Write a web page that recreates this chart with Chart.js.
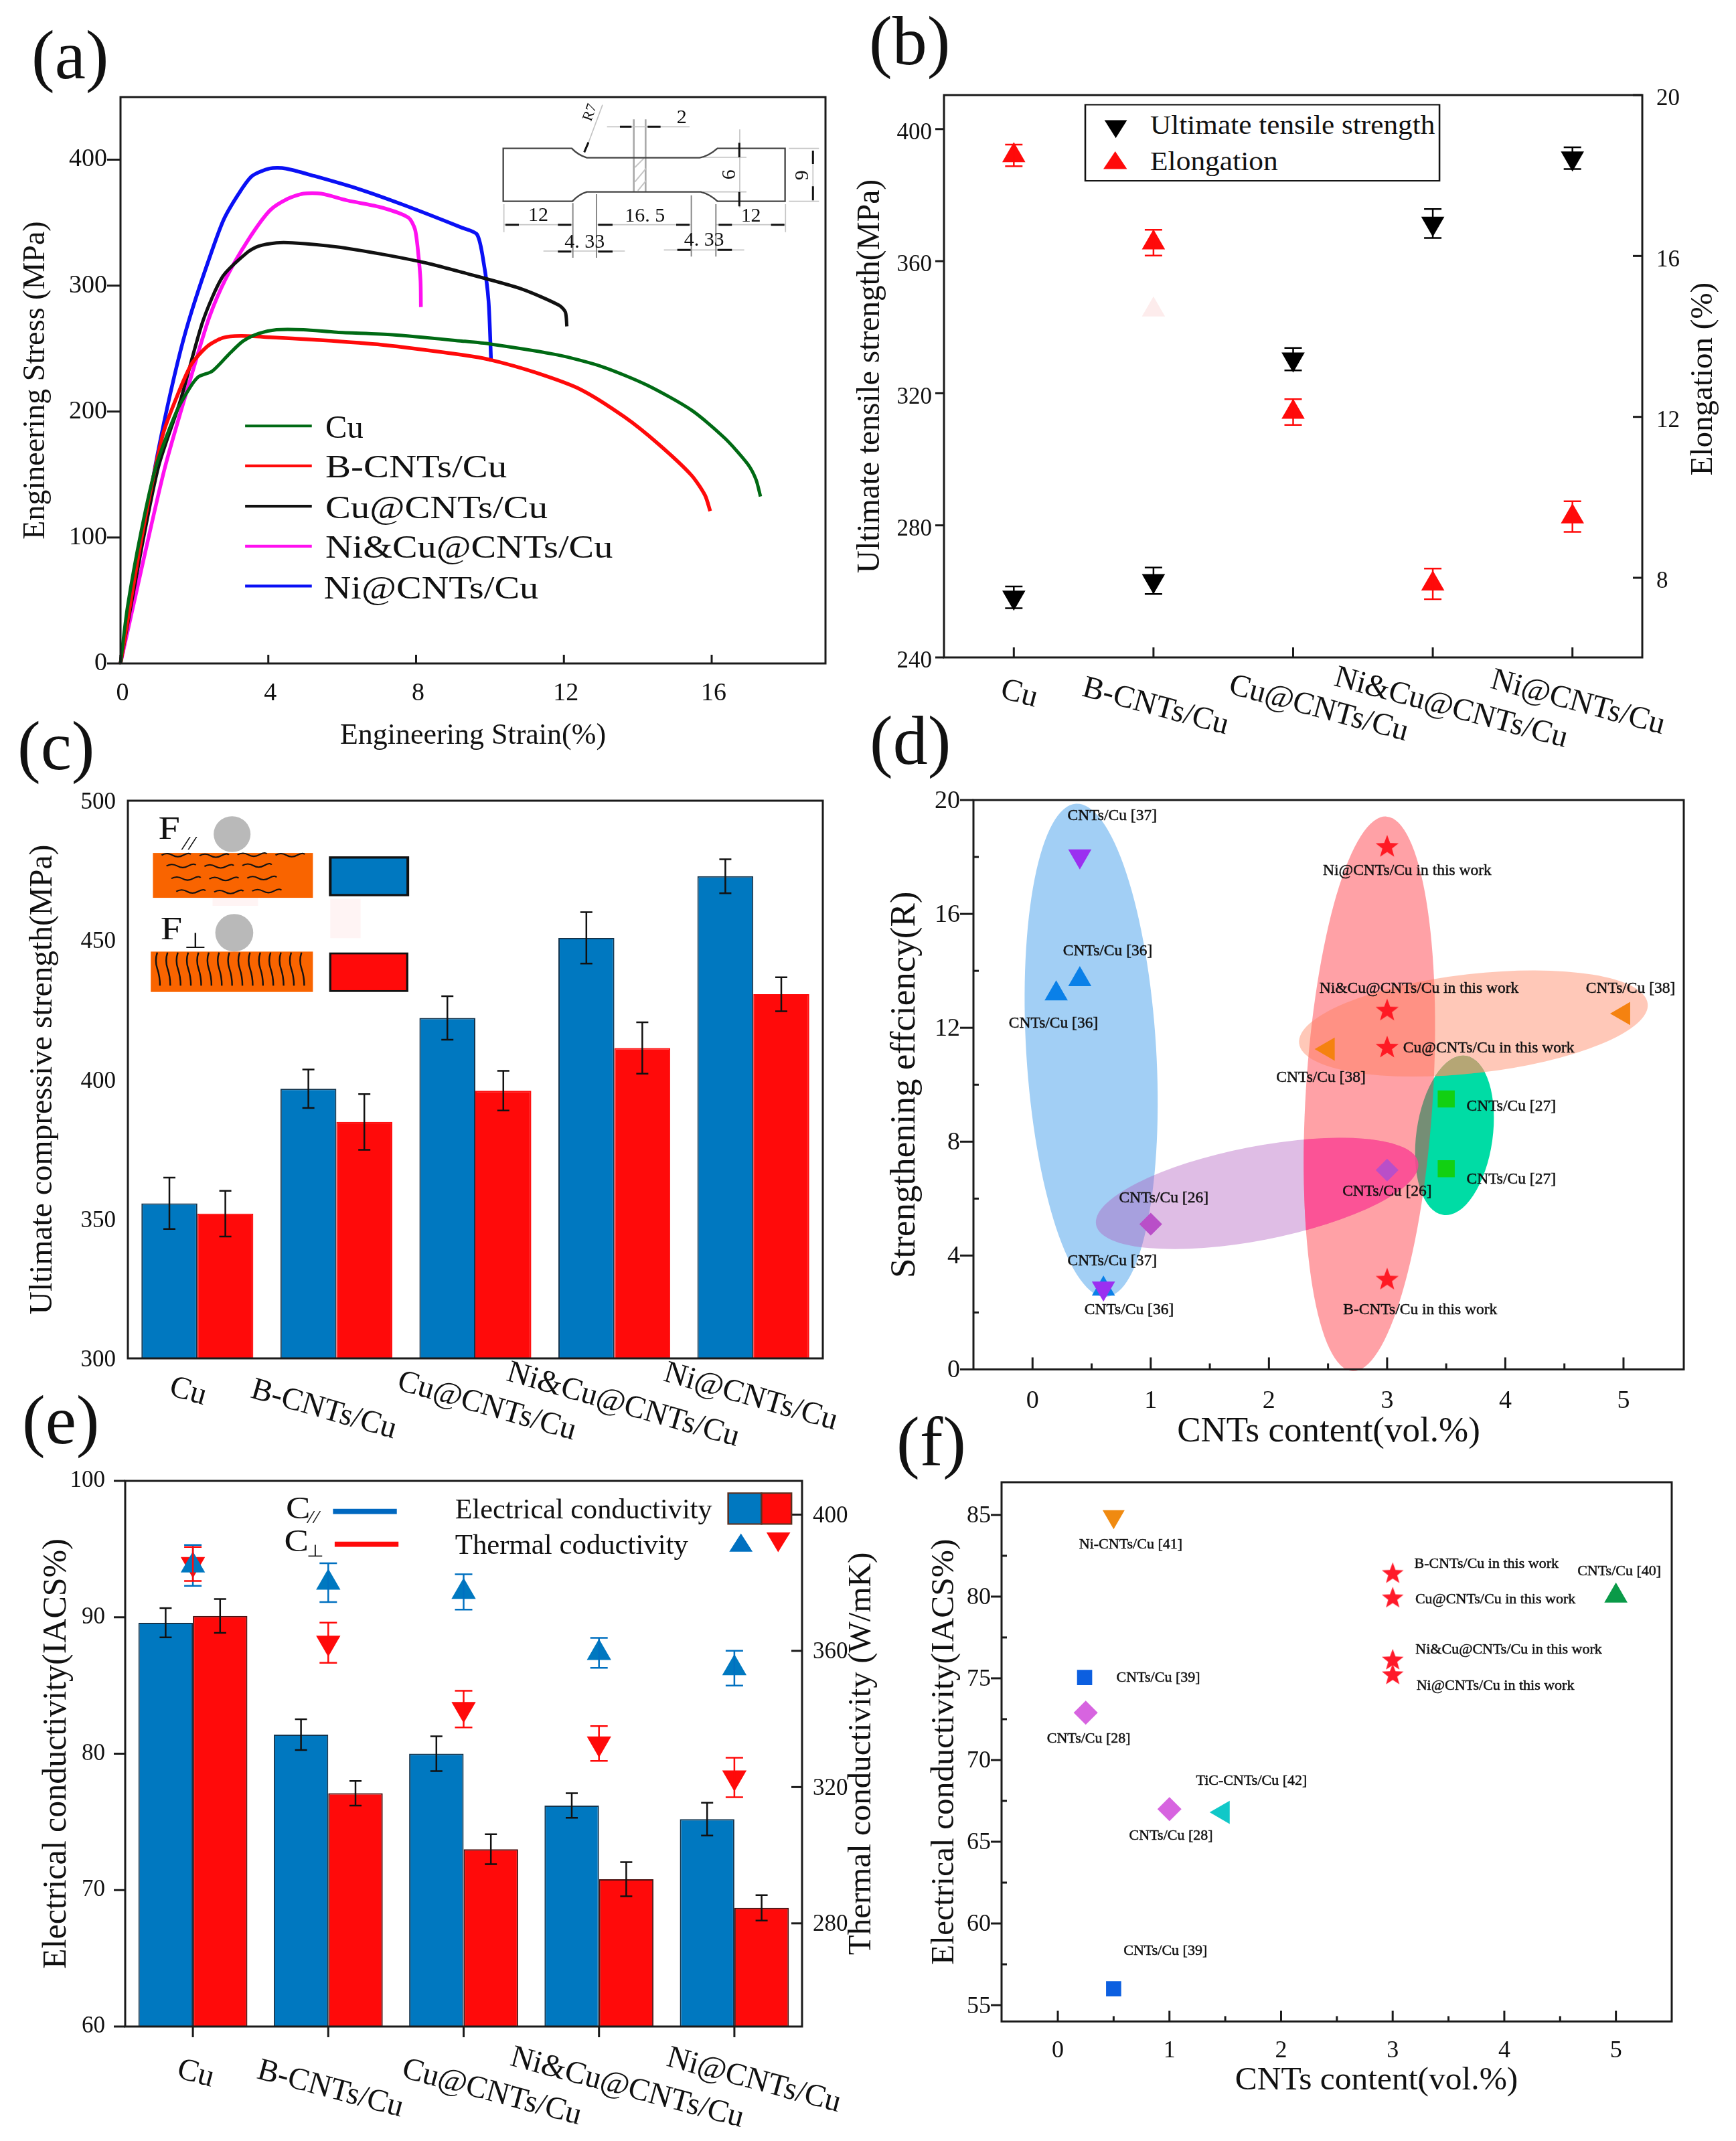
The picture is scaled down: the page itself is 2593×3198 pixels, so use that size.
<!DOCTYPE html>
<html>
<head>
<meta charset="utf-8">
<title>CNTs/Cu composite properties</title>
<script src="https://cdn.jsdelivr.net/npm/chart.js@4/dist/chart.umd.min.js"></script>
<style>
html,body{margin:0;padding:0;background:#fff}
#page{position:relative;width:2593px;height:3198px;overflow:hidden;background:#fff;font-family:"Liberation Serif",serif;color:#111}
canvas{position:absolute}
.tag{position:absolute;font-size:104px;line-height:1;white-space:nowrap}
svg{position:absolute;left:0;top:0;pointer-events:none}
svg text{font-family:"Liberation Serif",serif;fill:#111}
</style>
</head>
<body>
<div id="page">
<canvas id="a" style="left:0;top:100px" width="1260" height="1040"></canvas>
<canvas id="b" style="left:1270px;top:100px" width="1323" height="1020"></canvas>
<canvas id="c" style="left:0;top:1120px" width="1260" height="1060"></canvas>
<canvas id="d" style="left:1270px;top:1120px" width="1323" height="1080"></canvas>
<canvas id="e" style="left:0;top:2140px" width="1340" height="1058"></canvas>
<canvas id="f" style="left:1340px;top:2150px" width="1253" height="1048"></canvas>

<div class="tag" style="left:47px;top:30px">(a)</div>
<div class="tag" style="left:1298px;top:9px">(b)</div>
<div class="tag" style="left:26px;top:1062px">(c)</div>
<div class="tag" style="left:1299px;top:1054px">(d)</div>
<div class="tag" style="left:33px;top:2069px">(e)</div>
<div class="tag" style="left:1339px;top:2101px">(f)</div>

<svg width="2593" height="3198" viewBox="0 0 2593 3198">
  <!-- (a) legend -->
  <g transform="scale(.81 .7015)" fill="none" stroke-width="6">
    <path d="M452 907H575" stroke="#006a14"/>
    <path d="M452 992H575" stroke="#ff0a0a"/>
    <path d="M452 1078H575" stroke="#111"/>
    <path d="M452 1163H575" stroke="#ff10f0"/>
    <path d="M452 1248H575" stroke="#0a10f5"/>
    <text x="600" y="932" font-size="70" textLength="70" lengthAdjust="spacingAndGlyphs">Cu</text>
    <text x="600" y="1017" font-size="70" textLength="335" lengthAdjust="spacingAndGlyphs">B-CNTs/Cu</text>
    <text x="600" y="1103" font-size="70" textLength="410" lengthAdjust="spacingAndGlyphs">Cu@CNTs/Cu</text>
    <text x="600" y="1188" font-size="70" textLength="530" lengthAdjust="spacingAndGlyphs">Ni&amp;Cu@CNTs/Cu</text>
    <text x="597" y="1275" font-size="70" textLength="396" lengthAdjust="spacingAndGlyphs">Ni@CNTs/Cu</text>
  </g>

  <!-- (a) specimen drawing -->
  <g transform="translate(730 140) scale(.3333)" fill="none">
    <g stroke="#c4c4c4" stroke-width="5">
      <path d="M650 115V440M703 115V440" stroke="#aaa" stroke-width="8"/>
      <path d="M655 330L695 290M655 395L705 335M668 435L705 390" stroke-width="6"/>
      <path d="M530 148H900M510 50L430 265"/>
      <path d="M1125 160V510M960 285H1155M960 440H1155"/>
      <path d="M1345 245H1480M1345 482H1480M1453 255V478"/>
      <path d="M68 495V620M1330 495V620"/>
      <path d="M68 587H375M487 587H905M1020 587H1330M245 705H610M785 700H1145"/>
    </g>
    <path d="M377 490V735M483 450V735M908 455V730M1018 495V730" stroke="#8a8a8a" stroke-width="6"/>
    <path d="M65 245H372Q400 275 440 287H945Q985 280 1025 245H1328V482H1025Q990 450 950 440H440Q405 450 375 482H65Z" stroke="#444" stroke-width="7"/>
    <g stroke="#111" stroke-width="9">
      <path d="M588 148H640M712 148H770M428 262L447 218"/>
      <path d="M1123 220V285M1123 440V505M1453 255V315M1453 415V478"/>
      <path d="M75 587H135M310 587H370M490 587H555M840 587H900M1030 587H1090M1265 587H1325"/>
      <path d="M310 707H370M490 707H555M845 700H905M1025 700H1090"/>
    </g>
    <g font-size="90" style="fill:#333">
      <text x="447" y="108" font-size="66" text-anchor="middle" transform="rotate(-70 447 82)">R7</text>
      <text x="865" y="132" text-anchor="middle">2</text>
      <text x="1075" y="362" text-anchor="middle" dy="30" transform="rotate(-90 1075 362)">6</text>
      <text x="1400" y="365" text-anchor="middle" dy="30" transform="rotate(-90 1400 365)">9</text>
      <text x="222" y="570" text-anchor="middle">12</text>
      <text x="700" y="572" text-anchor="middle">16. 5</text>
      <text x="1175" y="572" text-anchor="middle">12</text>
      <text x="430" y="690" text-anchor="middle">4. 33</text>
      <text x="965" y="682" text-anchor="middle">4. 33</text>
    </g>
  </g>

  <!-- (b) legend -->
  <g transform="translate(1270 0) scale(.8438 .7015)">
    <rect x="416" y="223" width="627" height="162" fill="#fff" stroke="#111" stroke-width="3"/>
    <path d="M450 256H490L470 294Z" fill="#000"/>
    <path d="M448 360H490L469 322Z" fill="#ff0a0a"/>
    <text x="531" y="285" font-size="58" textLength="504" lengthAdjust="spacingAndGlyphs">Ultimate tensile strength</text>
    <text x="531" y="362" font-size="58" textLength="226" lengthAdjust="spacingAndGlyphs">Elongation</text>
  </g>

  <!-- (c) inset -->
  <g transform="translate(0 1100) scale(.81 .6696)">
    <rect x="392" y="360" width="84" height="18" fill="#fff4f4"/>
    <rect x="609" y="362" width="56" height="88" fill="#fff4f4"/>
    <ellipse cx="428" cy="218" rx="34" ry="40" fill="#b9b9b9"/>
    <ellipse cx="432" cy="438" rx="35" ry="42" fill="#b9b9b9"/>
    <rect x="282" y="260" width="295" height="100" fill="#f96400"/>
    <rect x="278" y="480" width="299" height="90" fill="#f96400"/>
    <g id="cracks" fill="none" stroke="#111" stroke-width="3"></g>
    <rect x="609" y="270" width="143" height="84" fill="#0078c0" stroke="#111" stroke-width="5"/>
    <rect x="609" y="484" width="142" height="84" fill="#ff0a0a" stroke="#111" stroke-width="4"/>
    <text x="292" y="228" font-size="72">F</text>
    <text x="336" y="252" font-size="44" font-style="italic">//</text>
    <text x="296" y="452" font-size="72">F</text>
    <text x="340" y="472" font-size="48">⊥</text>
  </g>

  <!-- (e) legend -->
  <g transform="translate(0 2100) scale(.829 .7003)">
    <text x="515" y="240" font-size="66">C</text>
    <text x="554" y="250" font-size="38" font-style="italic">//</text>
    <path d="M600 225H715" stroke="#0068c0" stroke-width="11"/>
    <text x="512" y="310" font-size="66">C</text>
    <text x="552" y="322" font-size="36">⊥</text>
    <path d="M603 295H718" stroke="#ff0a0a" stroke-width="11"/>
    <text x="820" y="240" font-size="60" textLength="463" lengthAdjust="spacingAndGlyphs">Electrical conductivity</text>
    <text x="820" y="315" font-size="60" textLength="420" lengthAdjust="spacingAndGlyphs">Thermal coductivity</text>
    <rect x="1312" y="186" width="60" height="66" fill="#0078c0" stroke="#5a3020" stroke-width="3"/>
    <rect x="1372" y="186" width="54" height="66" fill="#ff0a0a" stroke="#5a3020" stroke-width="3"/>
    <path d="M1314 311H1356L1335 272Z" fill="#0070c0"/>
    <path d="M1381 270H1424L1402 312Z" fill="#ff0a0a"/>
  </g>
</svg>
</div>

<script>
// ---- data ----
const materials = ['Cu','B-CNTs/Cu','Cu@CNTs/Cu','Ni&Cu@CNTs/Cu','Ni@CNTs/Cu'];

// (a) stress-strain curves
const cuStrain  = [0,0.19,0.56,0.96,1.5,1.87,2.11,2.48,2.95,3.32,3.74,4.22,4.95,5.85,7.36,9.24,10.02,11.83,13.04,14.25,15.46,16.36,16.97,17.2,17.32];
const cuStress  = [0,45,105,156.5,199,218.6,227.6,232,246,256,262,265,265,263,261,256,253.6,245,235.6,221,201,178.7,158.5,146,132.6];
const bStrain   = [0,0.56,1.14,1.57,1.93,2.36,2.77,3.26,4.04,5.25,7.07,9.24,10.02,11.23,12.44,13.64,14.55,15.45,15.82,15.96];
const bStress   = [0,98,181,215,238,252,258.5,260,259,257,253,245,241,231,217.7,195.7,174.4,149.5,133.5,121];
const cuAtStrain = [0,0.56,1.03,1.63,2.23,2.77,3.44,3.74,4.22,4.65,5.85,7.07,8.27,9.24,10.84,11.87,12.04,12.08];
const cuAtStress = [0,90,156.5,209.6,271.8,307.4,326.6,331.4,334,334,330.8,325,318,310.6,297.5,284.4,279,267.7];
const niCuStrain = [0,0.56,1.21,2.05,2.41,2.84,3.44,4.04,4.53,4.95,5.43,6.16,7.07,7.79,7.97,8.06,8.12,8.13];
const niCuStress = [0,74,156.5,241.5,275.5,305,335.6,359.6,369,373,373,367.5,362,354,344.7,325,303.7,283];
const niStrain  = [0,0.5,0.94,1.27,1.63,1.93,2.36,2.78,3.2,3.56,4.04,4.47,5.25,6.46,7.67,9.24,9.65,9.83,9.96,10.03];
const niStress  = [0,83,156.5,204,249,280,318,351.6,373,387,393,393,387,376.6,364,346,340.6,318,288,239.7];

// (b) tensile strength and elongation
const utsValues = [258.2,263.2,330.3,371.4,391.2];
const utsErrors = [3.3,4,3.4,4.4,3.3];
const elongValues = [18.5,16.33,12.12,7.85,9.52];
const elongErrors = [0.27,0.32,0.32,0.38,0.38];
const elongFaint = [null,14.66,null,null,null];

// (c) compressive strength
const compParallel = [355.6,396.7,422.1,450.8,472.9];
const compParallelErr = [9.2,6.9,7.8,9.2,6.1];
const compPerp = [351.9,384.8,396,411.3,430.6];
const compPerpErr = [8.2,10,7.1,9.2,6.1];

// (d) strengthening efficiency, [vol.%, R]
const dTriDown = [[0.4,18.03],[0.6,2.85]];
const dTriUp   = [[0.4,13.7],[0.2,13.2],[0.6,2.83]];
const dStars   = [[3,18.35],[3,12.6],[3,11.3],[3,3.15]];
const dDiamonds = [[1,5.1],[3,7]];
const dTriLeft = [[2.5,11.25],[5,12.5]];
const dSquares = [[3.5,9.5],[3.5,7.05]];
const dLabels  = ['CNTs/Cu [37]','CNTs/Cu [36]','CNTs/Cu [36]','CNTs/Cu [37]','CNTs/Cu [36]','Ni@CNTs/Cu in this work','Ni&Cu@CNTs/Cu in this work','Cu@CNTs/Cu in this work','B-CNTs/Cu in this work','CNTs/Cu [38]','CNTs/Cu [38]','CNTs/Cu [27]','CNTs/Cu [27]','CNTs/Cu [26]','CNTs/Cu [26]'];
const dLabelX  = [0.674,0.636,0.177,0.674,0.817,3.17,3.27,3.86,3.28,5.06,2.44,4.05,4.05,1.11,3.0];
const dLabelY  = [19.43,14.68,12.16,3.81,2.08,17.51,13.37,11.29,2.08,13.37,10.24,9.23,6.68,6.02,6.25];

// (e) electrical and thermal conductivity
const elecParallel = [89.6,81.4,80,76.2,75.2];
const elecParallelErr = [1.07,1.13,1.27,0.9,1.2];
const elecPerp = [90.1,77.1,73,70.8,68.7];
const elecPerpErr = [1.24,0.9,1.1,1.25,0.93];
const thermParallel = [385.1,380,377.3,359.4,354.9];
const thermParallelErr = [6,5.7,5.2,4.4,5.1];
const thermPerp = [385.5,362.4,342.9,332.8,322.8];
const thermPerpErr = [5,5.9,5.4,5.1,5.8];
const thermTicks = [280,320,360,400];

// (f) electrical conductivity against content
const fTriDown = [[0.5,84.9]];
const fSquares = [[0.24,75.05],[0.5,56]];
const fDiamonds = [[0.25,72.9],[1,67]];
const fTriLeft = [[1.48,66.8]];
const fTriUp   = [[5,80.05]];
const fStars   = [[3,81.4],[3,79.9],[3,76.1],[3,75.2]];
const fLabels  = ['Ni-CNTs/Cu [41]','B-CNTs/Cu in this work','Cu@CNTs/Cu in this work','CNTs/Cu [40]','Ni&Cu@CNTs/Cu in this work','Ni@CNTs/Cu in this work','CNTs/Cu [39]','CNTs/Cu [28]','TiC-CNTs/Cu [42]','CNTs/Cu [28]','CNTs/Cu [39]'];
const fLabelX  = [0.653,3.84,3.92,5.03,4.04,3.92,0.9,0.277,1.736,1.014,0.964];
const fLabelY  = [83.2,82.0,79.84,81.53,76.74,74.54,75.02,71.29,68.71,65.36,58.33];

// ---- helpers ----
const FONT = '"Liberation Serif", serif';
const BLUE = '#0078c0', RED = '#ff0a0a';
Chart.defaults.font.family = FONT;
Chart.defaults.color = '#111';
Chart.defaults.animation = false;
Chart.defaults.responsive = false;
Chart.defaults.devicePixelRatio = 1;
Chart.defaults.plugins.legend.display = false;
Chart.defaults.plugins.tooltip.enabled = false;

const pairs = (xs,ys) => xs.map((x,i)=>({x,y:ys[i]}));
const pts = (list) => list.map(([x,y])=>({x,y}));

function starMarker(r,color){
  const c=document.createElement('canvas'); c.width=c.height=r*2+2;
  const g=c.getContext('2d'); g.fillStyle=color; g.beginPath();
  for(let i=0;i<10;i++){
    const a=-Math.PI/2+i*Math.PI/5, q=i%2?r*0.42:r;
    g.lineTo(r+1+Math.cos(a)*q,r+1+Math.sin(a)*q);
  }
  g.closePath(); g.fill();
  return c;
}

// box and tick marks, spec per scale id: {dir:'in'|'out',len,minor:[],minorLen}
function frameMarks(spec){
  return {id:'frameMarks',afterDatasetsDraw(chart){
    const {ctx,chartArea:A,scales}=chart;
    ctx.save();
    ctx.strokeStyle='#1a1a1a'; ctx.lineWidth=3;
    ctx.strokeRect(A.left,A.top,A.right-A.left,A.bottom-A.top);
    const mark=(scale,v,dir,len)=>{
      const p=scale.getPixelForValue(v);
      ctx.beginPath();
      if(scale.isHorizontal()){
        const s=dir==='in'?-1:1;
        ctx.moveTo(p,A.bottom); ctx.lineTo(p,A.bottom+s*len);
      }else if(scale.position==='left'){
        const s=dir==='in'?1:-1;
        ctx.moveTo(A.left,p); ctx.lineTo(A.left+s*len,p);
      }else{
        const s=dir==='in'?-1:1;
        ctx.moveTo(A.right,p); ctx.lineTo(A.right+s*len,p);
      }
      ctx.stroke();
    };
    for(const id of Object.keys(spec)){
      const sp=spec[id], scale=scales[id];
      const vals=scale.type==='category'?scale.ticks.map((t,i)=>i):scale.ticks.map(t=>t.value);
      vals.forEach(v=>mark(scale,v,sp.dir,sp.len));
      (sp.minor||[]).forEach(v=>mark(scale,v,'in',sp.minorLen||8));
    }
    ctx.restore();
  }};
}

// error bars from each dataset's err array
const errorBars = {id:'errorBars',afterDatasetsDraw(chart){
  const {ctx}=chart;
  chart.data.datasets.forEach((ds,i)=>{
    if(!ds.err) return;
    const meta=chart.getDatasetMeta(i), yS=chart.scales[meta.yAxisID];
    ctx.save();
    ctx.strokeStyle=ds.errColor||'#111'; ctx.lineWidth=ds.errWidth||2.5;
    meta.data.forEach((el,j)=>{
      const v=ds.data[j]; if(v==null) return;
      const hi=yS.getPixelForValue(v+ds.err[j]), lo=yS.getPixelForValue(v-ds.err[j]), cap=ds.errCap||9;
      ctx.beginPath();
      ctx.moveTo(el.x,hi); ctx.lineTo(el.x,lo);
      ctx.moveTo(el.x-cap,hi); ctx.lineTo(el.x+cap,hi);
      ctx.moveTo(el.x-cap,lo); ctx.lineTo(el.x+cap,lo);
      ctx.stroke();
    });
    ctx.restore();
  });
}};

// slanted category names, offsets are from the tick and the axis line
function slantedLabels(dx,dy,angle,size){
  return {id:'slantedLabels',afterDraw(chart){
    const {ctx,chartArea:A,scales:{x}}=chart;
    x.getLabels().forEach((t,i)=>{
      ctx.save();
      ctx.translate(x.getPixelForTick(i)+dx[i],A.bottom+dy[i]);
      ctx.rotate(angle*Math.PI/180);
      ctx.font=size+'px '+FONT; ctx.fillStyle='#111'; ctx.textAlign='center'; ctx.textBaseline='middle';
      ctx.fillText(t,0,0);
      ctx.restore();
    });
  }};
}

function pointNotes(texts,xs,ys,size){
  return {id:'pointNotes',afterDatasetsDraw(chart){
    const {ctx,scales:{x,y}}=chart;
    ctx.save();
    ctx.font=size+'px '+FONT; ctx.fillStyle='#111'; ctx.strokeStyle='#111'; ctx.lineWidth=0.5;
    ctx.textAlign='center'; ctx.textBaseline='middle';
    texts.forEach((t,i)=>{
      const px=x.getPixelForValue(xs[i]), py=y.getPixelForValue(ys[i]);
      ctx.fillText(t,px,py); ctx.strokeText(t,px,py);
    });
    ctx.restore();
  }};
}

// titles the library cannot place: right axes reading upward, off-centre x title
function freeTitle(text,size,getX,getY,rot){
  return {id:'freeTitle',afterDraw(chart){
    const {ctx,chartArea:A}=chart;
    ctx.save();
    ctx.translate(getX(A),getY(A));
    ctx.rotate(rot*Math.PI/180);
    ctx.font=size+'px '+FONT; ctx.fillStyle='#111'; ctx.textAlign='center'; ctx.textBaseline='middle';
    ctx.fillText(text,0,0);
    ctx.restore();
  }};
}

function linAxis(o){
  const {pos,min,max,step,size,pad,fitW,fitH,title,titleSize,titlePad,off,fixed}=o;
  const horizontal=pos==='bottom';
  const axis={
    type:'linear',position:pos,min,max,
    grid:{display:false,drawTicks:false},border:{display:false},
    ticks:{stepSize:step,autoSkip:false,includeBounds:false,maxRotation:0,font:{size},padding:pad,color:'#111',labelOffset:off||0},
    title:title?{display:true,text:title,font:{size:titleSize},color:'#111',
      padding:horizontal?{bottom:titlePad,top:0}:{top:titlePad,bottom:0}}:{display:false},
    afterFit(s){ if(horizontal) s.height=fitH; else s.width=fitW; }
  };
  if(fixed) axis.afterBuildTicks=(s)=>{ s.ticks=fixed.map(value=>({value})); };
  return axis;
}
function catAxis(fitH){
  return {type:'category',offset:true,grid:{display:false,drawTicks:false},border:{display:false},
    ticks:{display:false},afterFit(s){s.height=fitH;}};
}

// ---- (a) ----
const curve=(label,color,xs,ys,w)=>({label,borderColor:color,backgroundColor:color,borderWidth:w,showLine:true,pointRadius:0,tension:0.25,data:pairs(xs,ys)});
new Chart(document.getElementById('a'),{
  type:'scatter',
  data:{datasets:[
    curve('Cu','#006a14',cuStrain,cuStress,5),
    curve('B-CNTs/Cu','#ff0a0a',bStrain,bStress,5.5),
    curve('Cu@CNTs/Cu','#111111',cuAtStrain,cuAtStress,5),
    curve('Ni&Cu@CNTs/Cu','#ff10f0',niCuStrain,niCuStress,5.5),
    curve('Ni@CNTs/Cu','#0a10f5',niStrain,niStress,5.5)
  ]},
  options:{layout:{padding:{top:45,right:27}},clip:false,scales:{
    x:linAxis({pos:'bottom',min:0,max:19.08,step:4,size:38,pad:22,off:3,fitH:149,title:'Engineering Strain(%)',titleSize:44,titlePad:14}),
    y:linAxis({pos:'left',min:0,max:449.7,step:100,size:38,pad:20,fitW:180,title:'Engineering Stress (MPa)',titleSize:46,titlePad:26})
  }},
  plugins:[frameMarks({x:{dir:'in',len:13},y:{dir:'out',len:20}})]
});

// ---- (b) ----
const marker=(label,color,rot,values,axis,r,extra)=>Object.assign({label,type:'line',showLine:false,pointStyle:'triangle',pointRotation:rot,pointRadius:r,pointBackgroundColor:color,pointBorderWidth:0,borderColor:color,backgroundColor:color,data:values,yAxisID:axis},extra||{});
new Chart(document.getElementById('b'),{
  type:'line',
  data:{labels:materials,datasets:[
    marker('Ultimate tensile strength','#000',180,utsValues,'y',20,{err:utsErrors,errColor:'#000',errCap:13}),
    marker('Elongation',RED,0,elongValues,'y2',20,{err:elongErrors,errColor:RED,errCap:13}),
    marker('Elongation (faint)','#fdecec',0,elongFaint,'y2',20)
  ]},
  options:{layout:{padding:{top:42}},scales:{
    x:catAxis(138),
    y:linAxis({pos:'left',min:240,max:410.3,step:40,size:35,pad:18,off:6,fitW:140,title:'Ultimate tensile strength(MPa)',titleSize:47.5,titlePad:2}),
    y2:linAxis({pos:'right',min:6.02,max:20,step:4,size:35,pad:21,off:6,fitW:140})
  }},
  plugins:[errorBars,frameMarks({x:{dir:'in',len:15},y:{dir:'out',len:13},y2:{dir:'in',len:14}}),
    slantedLabels([8,3,38,27,8],[55,74,77,76,68],15,47),
    freeTitle('Elongation (%)',47,()=>1275,(A)=>(A.top+A.bottom)/2+4,-90)]
});

// ---- (c) ----
const barSet=(label,color,edge,values,errs,extra)=>Object.assign({label,type:'bar',backgroundColor:color,borderColor:edge,borderWidth:2,data:values,err:errs,errColor:'#111',errCap:9,errWidth:2.5},extra||{});
new Chart(document.getElementById('c'),{
  type:'bar',
  data:{labels:materials,datasets:[
    barSet('F parallel',BLUE,'#13344d',compParallel,compParallelErr),
    barSet('F perpendicular',RED,RED,compPerp,compPerpErr)
  ]},
  options:{layout:{padding:{top:76,right:31}},categoryPercentage:0.805,barPercentage:1,scales:{
    x:catAxis(151),
    y:linAxis({pos:'left',min:300,max:500,step:50,size:35,pad:18,off:3,fitW:191,title:'Ultimate compressive strength(MPa)',titleSize:47.5,titlePad:36})
  }},
  plugins:[errorBars,frameMarks({}),slantedLabels([-14,-19,17,13,-4],[50,77,72,70,58],16,47)]
});

// ---- (d) ----
const dEllipses=[ // centre in data units, radii in px, tilt in degrees
  {cx:3.57,cy:8.22,rx:57,ry:120,tilt:8,fill:'rgba(0,220,165,1)'},
  {cx:0.496,cy:11.21,rx:97,ry:369,tilt:-3.5,fill:'rgba(70,160,235,.5)'},
  {cx:1.9,cy:6.18,rx:245,ry:70,tilt:-11,fill:'rgba(175,90,190,.4)'},
  {cx:2.85,cy:9.68,rx:95,ry:415,tilt:3.5,fill:'rgba(255,50,60,.46)'},
  {cx:3.73,cy:12.15,rx:262,ry:74,tilt:-6.5,fill:'rgba(255,125,85,.42)'}
];
const dOverlaps=[[0,4,'#b5a675'],[2,3,'rgba(255,70,150,.75)']]; // stronger tint where two ellipses cross
const ellipseShades={id:'ellipseShades',beforeDatasetsDraw(chart){
  const {ctx,scales:{x,y}}=chart;
  const trace=(e)=>{
    ctx.beginPath();
    ctx.ellipse(x.getPixelForValue(e.cx),y.getPixelForValue(e.cy),e.rx,e.ry,e.tilt*Math.PI/180,0,Math.PI*2);
  };
  dEllipses.forEach(e=>{
    ctx.save(); ctx.fillStyle=e.fill; trace(e); ctx.fill(); ctx.restore();
  });
  dOverlaps.forEach(([i,j,fill])=>{
    ctx.save();
    trace(dEllipses[i]); ctx.clip();
    ctx.fillStyle=fill; trace(dEllipses[j]); ctx.fill();
    ctx.restore();
  });
}};
const scatterSet=(label,style,color,list,r,rot)=>({label,pointStyle:style,pointRotation:rot||0,pointRadius:r,pointBackgroundColor:color,pointBorderWidth:0,backgroundColor:color,data:pts(list)});
new Chart(document.getElementById('d'),{
  type:'scatter',
  data:{datasets:[
    scatterSet('CNTs/Cu [37]','triangle','#9b30f0',dTriDown,20,180),
    scatterSet('CNTs/Cu [36]','triangle','#0a80e8',dTriUp,20),
    scatterSet('This work',starMarker(18,'#ff1a24'),'#ff1a24',dStars,18),
    scatterSet('CNTs/Cu [26]','rectRot','#b94fc8',dDiamonds,17),
    scatterSet('CNTs/Cu [38]','triangle','#f58210',dTriLeft,20,270),
    scatterSet('CNTs/Cu [27]','rect','#12d012',dSquares,18)
  ]},
  options:{layout:{padding:{top:75,right:78}},clip:false,scales:{
    x:linAxis({pos:'bottom',min:-0.5,max:5.51,step:1,size:38,pad:25,fitH:154.5,title:'CNTs content(vol.%)',titleSize:53,titlePad:29}),
    y:linAxis({pos:'left',min:0,max:20,step:4,size:38,pad:20,off:2,fitW:184,title:'Strengthening effciency(R)',titleSize:53,titlePad:50})
  }},
  plugins:[ellipseShades,frameMarks({x:{dir:'in',len:18,minor:[0.5,1.5,2.5,3.5,4.5],minorLen:9},y:{dir:'out',len:20,minor:[2,6,10,14,18],minorLen:8}}),
    pointNotes(dLabels,dLabelX,dLabelY,23.5)]
});

// ---- (e) ----
new Chart(document.getElementById('e'),{
  type:'bar',
  data:{labels:materials,datasets:[
    marker('Thermal parallel',BLUE,0,thermParallel,'y2',21,{err:thermParallelErr,errColor:'#0070c0',errCap:13,order:0}),
    marker('Thermal perpendicular',RED,180,thermPerp,'y2',21,{err:thermPerpErr,errColor:RED,errCap:13,order:1}),
    barSet('Electrical parallel',BLUE,'#13344d',elecParallel,elecParallelErr,{yAxisID:'y',order:2}),
    barSet('Electrical perpendicular',RED,'#4a1010',elecPerp,elecPerpErr,{yAxisID:'y',order:3})
  ]},
  options:{layout:{padding:{top:72}},categoryPercentage:0.805,barPercentage:1,scales:{
    x:catAxis(171),
    y:linAxis({pos:'left',min:60,max:100,step:10,size:35,pad:30,fitW:187,title:'Electrical conductivity(IACS%)',titleSize:50,titlePad:55}),
    y2:linAxis({pos:'right',min:249.7,max:409.9,fixed:thermTicks,size:35,pad:16,off:2,fitW:142})
  }},
  plugins:[errorBars,frameMarks({x:{dir:'out',len:16},y:{dir:'out',len:17},y2:{dir:'in',len:16}}),
    slantedLabels([4,3,42,42,29],[71,94,99,92,81],15,47),
    freeTitle('Thermal conductivity (W/mK)',49,()=>1287,(A)=>(A.top+A.bottom)/2,-90)]
});

// ---- (f) ----
new Chart(document.getElementById('f'),{
  type:'scatter',
  data:{datasets:[
    scatterSet('Ni-CNTs/Cu [41]','triangle','#f08a10',fTriDown,19,180),
    scatterSet('CNTs/Cu [39]','rect','#0c5fe0',fSquares,16),
    scatterSet('CNTs/Cu [28]','rectRot','#d764e0',fDiamonds,18),
    scatterSet('TiC-CNTs/Cu [42]','triangle','#10c8c8',fTriLeft,20,270),
    scatterSet('CNTs/Cu [40]','triangle','#0a9a48',fTriUp,20),
    scatterSet('This work',starMarker(17,'#ff1a2a'),'#ff1a2a',fStars,17)
  ]},
  options:{layout:{padding:{top:64,right:96}},scales:{
    x:linAxis({pos:'bottom',min:-0.504,max:5.5,step:1,size:36,pad:22,fitH:178.5}),
    y:linAxis({pos:'left',min:54,max:87,step:5,size:36,pad:16,off:2,fitW:156,title:'Electrical conductivity(IACS%)',titleSize:49.5,titlePad:41})
  }},
  plugins:[frameMarks({x:{dir:'in',len:16,minor:[0.5,1.5,2.5,3.5,4.5],minorLen:8},y:{dir:'out',len:16,minor:[57.5,62.5,67.5,72.5,77.5,82.5],minorLen:8}}),
    pointNotes(fLabels,fLabelX,fLabelY,22),
    freeTitle('CNTs content(vol.%)',49.5,()=>716,(A)=>A.bottom+88,0)]
});

// crack pattern on the (c) inset bars, decoration only
(function drawCracks(){
  const g=document.getElementById('cracks'); let d='';
  [264,288,316,345].forEach((y,row)=>{
    for(let x=298+row*9;x<510;x+=70){
      d+=`M${x} ${y+(x%3)}q10 -7 20 0t20 0t14 -2 `;
    }
  });
  for(let x=290;x<568;x+=19){
    const w=(x%38===0)?5:-5;
    d+=`M${x} 482q${w} 18 0 36t${-w} 38 `;
  }
  g.innerHTML=`<path d="${d}"/>`;
})();
</script>
</body>
</html>
